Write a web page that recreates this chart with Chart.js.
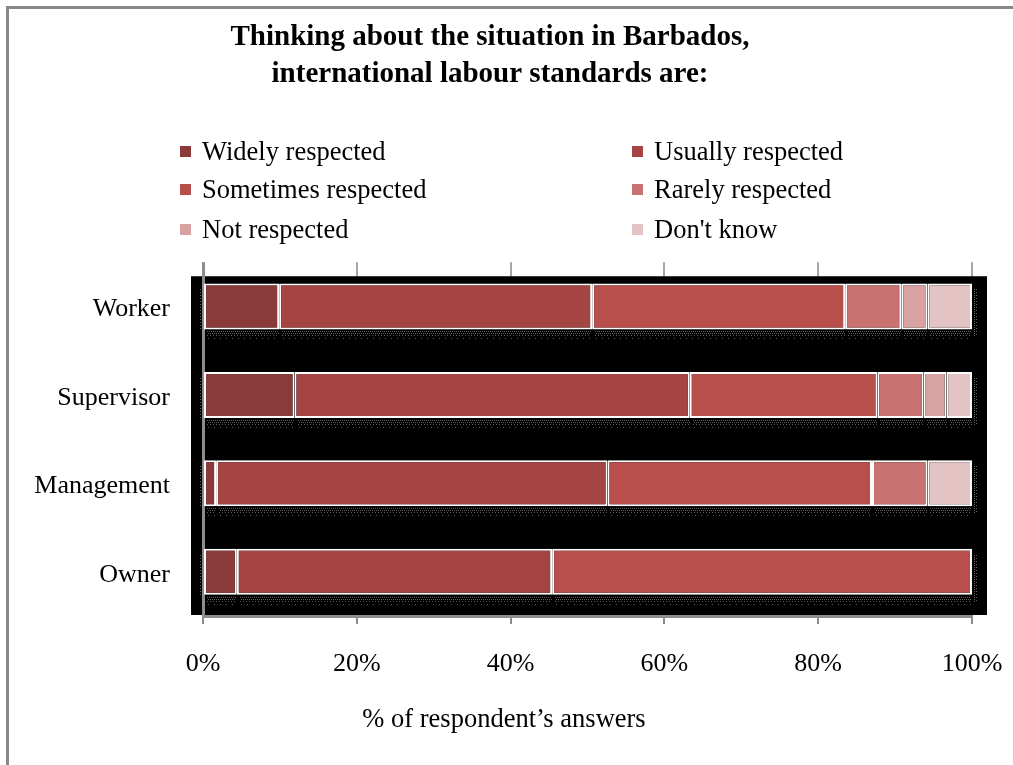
<!DOCTYPE html>
<html>
<head>
<meta charset="utf-8">
<script src="https://cdn.jsdelivr.net/npm/chart.js@4.4.1/dist/chart.umd.min.js"></script>
<style>
  html, body { margin: 0; padding: 0; background: #fff; }
  #wrap { position: relative; width: 1013px; height: 765px; overflow: hidden; font-family: "Liberation Serif", "Times New Roman", serif; color: #000; }
  #frame { position: absolute; left: 6px; top: 6px; width: 1010px; height: 762px; border-top: 3px solid #888; border-left: 3px solid #888; box-sizing: border-box; pointer-events: none; }
  #chart { position: absolute; left: 0; top: 0; }
  .leg { position: absolute; display: flex; align-items: center; height: 30px; font-size: 26.5px; white-space: nowrap; }
  .leg span.box { display: inline-block; width: 11px; height: 11px; margin-right: 11px; }
  #xtitle { position: absolute; top: 703px; left: 304px; width: 400px; text-align: center; font-size: 26.5px; line-height: 30px; }
</style>
</head>
<body>
<div id="wrap">
  <canvas id="chart" width="1013" height="765"></canvas>
  <div id="legend"></div>
  <div id="xtitle">% of respondent’s answers</div>
  <div id="frame"></div>
</div>
<script>
// Respondent groups and answer shares (% of respondents)
const categories = ['Worker', 'Supervisor', 'Management', 'Owner'];
const seriesNames = ['Widely respected', 'Usually respected', 'Sometimes respected', 'Rarely respected', 'Not respected', "Don't know"];
const widelyRespected    = [9.9, 11.9, 1.7, 4.4];
const usuallyRespected   = [40.7, 51.4, 50.9, 41.0];
const sometimesRespected = [32.9, 24.4, 34.4, 54.6];
const rarelyRespected    = [7.3, 6.0, 7.2, 0];
const notRespected       = [3.4, 3.0, 0, 0];
const dontKnow           = [5.8, 3.3, 5.8, 0];
const xTicks = [0, 20, 40, 60, 80, 100];
const seriesColors = ['#8b3a3a', '#a54543', '#b94f4c', '#c87371', '#d9a2a2', '#e4c3c5'];

const seriesValues = [widelyRespected, usuallyRespected, sometimesRespected, rarelyRespected, notRespected, dontKnow];
const FONT = '"Liberation Serif", "Times New Roman", serif';

// Black panel behind the bars, the dotted drop shadows and the value axis line
const panelPlugin = {
  id: 'panel',
  beforeDatasetsDraw(chart) {
    const { ctx, chartArea: a } = chart;
    ctx.save();
    ctx.fillStyle = '#000';
    ctx.fillRect(a.left - 12, a.top + 14, a.right - a.left + 27, a.bottom - a.top - 15);

    // dotted shadow under each segment
    ctx.fillStyle = '#5e5e5e';
    const dotRow = (x0, x1, y, step) => {
      for (let x = x0; x < x1; x += step) ctx.fillRect(Math.round(x), Math.round(y), 1, 1);
    };
    const dotCol = (x, y0, y1, step) => {
      for (let y = y0; y < y1; y += step) ctx.fillRect(Math.round(x), Math.round(y), 1, 1);
    };
    categories.forEach((_, i) => {
      let first = null, last = null;
      chart.data.datasets.forEach((ds, d) => {
        if (!ds.data[i]) return;
        const el = chart.getDatasetMeta(d).data[i];
        const p = el.getProps(['x', 'y', 'base', 'height'], true);
        const l = Math.min(p.x, p.base), r = Math.max(p.x, p.base);
        const b = p.y + p.height / 2;
        if (first === null) first = { l, top: p.y - p.height / 2, b };
        last = { r, top: p.y - p.height / 2, b };
        dotRow(l + 3, r - 1, b + 2, 2);
        dotRow(l + 4, r - 1, b + 4, 2);
        dotRow(l + 3, r - 1, b + 6, 3);
        dotRow(l + 4, r - 1, b + 9, 6);
      });
      if (first) {
        dotCol(first.l - 4, first.top + 6, first.b + 2, 3);
      }
      if (last) {
        dotCol(last.r + 2, last.top + 6, last.b + 8, 2);
        dotCol(last.r + 4, last.top + 6, last.b + 8, 3);
      }
    });

    // value axis line over the panel
    ctx.fillStyle = '#8c8c8c';
    ctx.fillRect(Math.round(a.left) - 1, a.top, 3, a.bottom - a.top + 2);
    ctx.restore();
  }
};

const chart = new Chart(document.getElementById('chart'), {
  type: 'bar',
  data: {
    labels: categories,
    datasets: seriesNames.map((name, k) => ({
      label: name,
      data: seriesValues[k],
      backgroundColor: seriesColors[k],
      borderColor: '#ffffff',
      borderWidth: 2,
      borderSkipped: false,
      barPercentage: 0.52,
      categoryPercentage: 1
    }))
  },
  options: {
    indexAxis: 'y',
    responsive: false,
    devicePixelRatio: 1,
    animation: false,
    events: [],
    layout: { padding: { left: 8, right: 41, top: 0, bottom: 0 } },
    plugins: {
      legend: { display: false },
      tooltip: { enabled: false },
      title: {
        display: true,
        text: ['Thinking about the situation in Barbados,', 'international labour standards are:'],
        color: '#000',
        font: { family: FONT, size: 29, weight: 'bold', lineHeight: 1.28 },
        padding: { top: 19, bottom: 169 }
      }
    },
    scales: {
      x: {
        stacked: true,
        min: 0,
        max: 100,
        afterBuildTicks(scale) { scale.ticks = xTicks.map(v => ({ value: v })); },
        afterFit(scale) {
          scale.height = 149;
          scale.paddingLeft = 0;
          scale.paddingRight = 0;
        },
        ticks: {
          callback: v => v + '%',
          color: '#000',
          font: { family: FONT, size: 26 },
          padding: 25,
          maxRotation: 0
        },
        grid: { color: '#a6a6a6', lineWidth: 2, tickLength: 8, tickColor: '#8c8c8c' },
        border: { display: true, color: '#8c8c8c', width: 3 }
      },
      y: {
        stacked: true,
        afterFit(scale) { scale.width = 195; },
        ticks: {
          color: '#000',
          font: { family: FONT, size: 26 },
          padding: 25,
          labelOffset: 3
        },
        grid: { display: false },
        border: { display: false }
      }
    }
  },
  plugins: [panelPlugin]
});

// Legend in two columns
const legend = document.getElementById('legend');
const legendCols = [180, 632];
const legendRows = [151, 189, 229];
seriesNames.forEach((name, k) => {
  const item = document.createElement('div');
  item.className = 'leg';
  item.style.left = legendCols[k % 2] + 'px';
  item.style.top = (legendRows[Math.floor(k / 2)] - 15) + 'px';
  const box = document.createElement('span');
  box.className = 'box';
  box.style.background = seriesColors[k];
  item.appendChild(box);
  item.appendChild(document.createTextNode(name));
  legend.appendChild(item);
});
</script>
</body>
</html>
